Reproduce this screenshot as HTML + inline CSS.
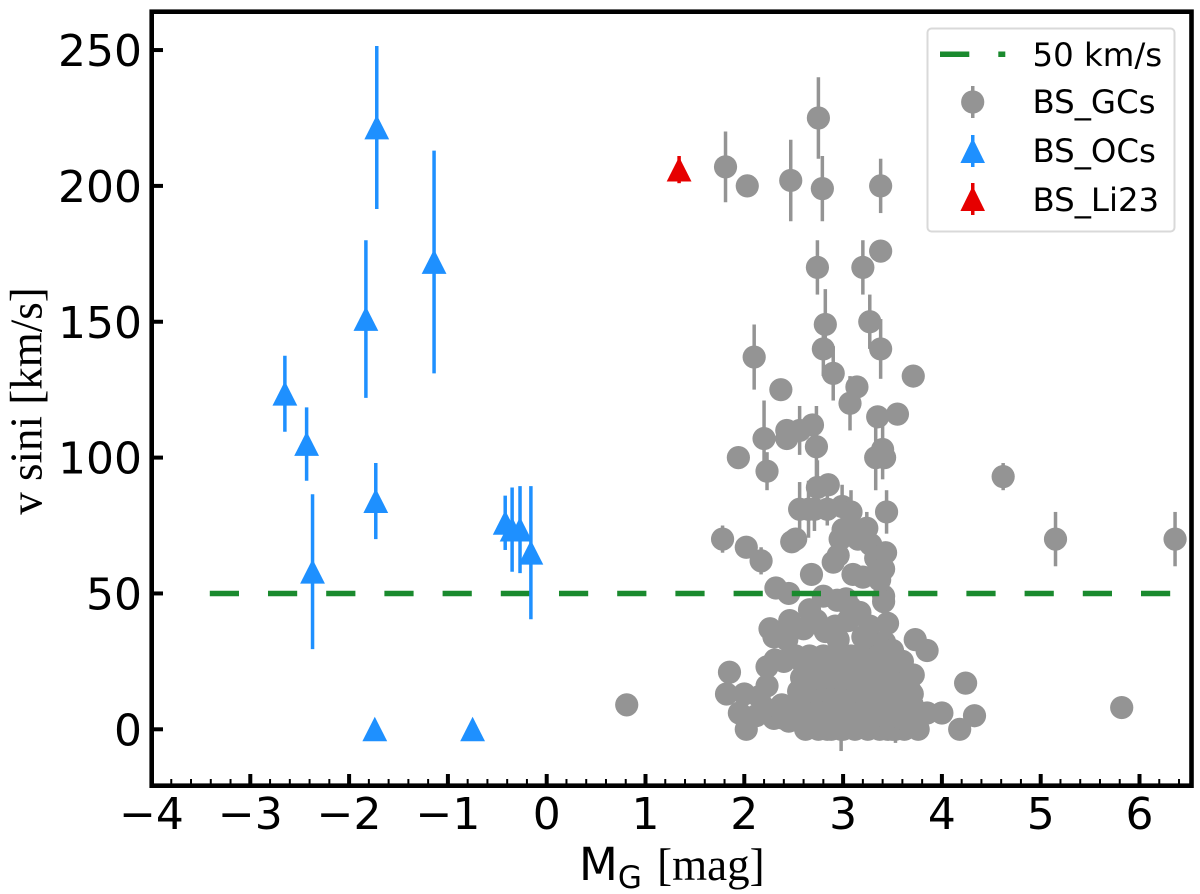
<!DOCTYPE html>
<html lang="en">
<head>
<meta charset="utf-8">
<title>v sini vs absolute magnitude</title>
<style>
html,body{margin:0;padding:0;background:#fff;}
svg{display:block;}
.tick-text{font-family:"DejaVu Sans","Liberation Sans",sans-serif;font-size:44px;fill:#000;}
.legend-text{font-family:"DejaVu Sans","Liberation Sans",sans-serif;font-size:32.4px;fill:#000;}
.serif{font-family:"Liberation Serif",serif;}
.sans{font-family:"DejaVu Sans","Liberation Sans",sans-serif;}
</style>
</head>
<body>
<svg id="chart" xmlns="http://www.w3.org/2000/svg" width="1200" height="894" viewBox="0 0 1200 894">
<rect x="0" y="0" width="1200" height="894" fill="#fff"/>
<g id="gc-layer"></g>
<g id="ref-layer"></g>
<g id="oc-layer"></g>
<g id="li-layer"></g>
<g id="axis-layer"></g>
<text class="serif" font-size="45" text-anchor="middle" transform="translate(41.5,401) rotate(-90)" fill="#000">v sini [km/s]</text>
<text x="579" y="880" font-size="45" fill="#000"><tspan class="sans" font-size="45">M</tspan><tspan class="sans" font-size="31" dy="8">G</tspan><tspan class="serif" dy="-8" dx="4"> [mag]</tspan></text>
<g>
  <rect x="927.5" y="28.5" width="247" height="203" rx="4" fill="#fff" fill-opacity="0.8" stroke="#d9d9d9" stroke-width="2"/>
  <rect x="940" y="51.5" width="29.3" height="5.5" fill="#1a8a2e"/>
  <rect x="998.3" y="51.5" width="7" height="5.5" fill="#1a8a2e"/>
  <text class="legend-text" x="1032.5" y="66">50 km/s</text>
  <rect x="971" y="86" width="3.5" height="32" fill="#949494"/>
  <circle cx="972.7" cy="102" r="11.6" fill="#949494"/>
  <text class="legend-text" x="1032.5" y="113">BS_GCs</text>
  <rect x="971" y="135" width="3.5" height="32" fill="#1e90ff"/>
  <polygon points="972.7,138 985,163 960.4,163" fill="#1e90ff"/>
  <text class="legend-text" x="1032.5" y="162">BS_OCs</text>
  <rect x="971" y="183" width="3.5" height="32" fill="#e60000"/>
  <polygon points="972.7,186 985,211 960.4,211" fill="#e60000"/>
  <text class="legend-text" x="1032.5" y="211">BS_Li23</text>
</g>
</svg>
<script>
const xTicks = [-4,-3,-2,-1,0,1,2,3,4,5,6];
const yTicks = [0,50,100,150,200,250];
const refValue = [50];
const refRange = [-3.41,6.33];

const ocMag = [-2.65,-2.43,-1.72,-1.83,-1.14,-1.73,-2.37,-0.42,-0.35,-0.27,-0.16,-1.74,-0.75];
const ocVsini = [123.5,105,221.5,151,172,84,58,76,73.5,73.5,65,0,0];
const ocErr = [14,13.5,30,29,41,14,28.5,10,15.5,16,24.5,0,0];

const liMag = [1.34];
const liVsini = [206];
const liErr = [5];

const gcMag = [
1.81,2.03,2.47,2.75,2.79,3.38,3.38,2.74,3.20,2.82,
3.27,2.80,3.38,2.10,2.90,2.37,3.71,3.14,3.07,3.35,
3.55,2.20,2.43,2.43,2.56,2.69,2.73,3.40,3.33,3.42,
1.94,2.23,2.85,2.74,3.44,2.56,2.65,2.71,2.84,2.99,
3.08,3.24,1.78,2.02,2.17,2.48,2.52,4.62,5.15,6.36,
0.81,5.82,2.84,2.98,3.37,3.45,3.53,
2.97,3.00,3.12,3.15,3.28,3.33,3.33,3.43,3.41,3.37,
2.90,2.95,2.68,3.10,3.20,3.41,3.03,2.80,2.32,2.45,
3.41,2.94,2.66,3.07,2.46,3.45,3.17,2.73,2.92,3.05,
3.27,2.26,2.30,2.43,2.60,2.82,2.95,3.20,3.32,3.42,
3.73,3.85,1.85,1.82,2.00,1.95,2.02,4.24,4.33,4.18,
4.00,3.85,2.31,2.23,2.40,2.23,2.30,2.45,2.15,2.12,
2.20,
2.62,2.75,2.88,3.00,3.12,3.25,3.50,3.62,3.76,
2.40,2.55,2.70,2.85,3.00,3.15,3.30,3.45,3.60,3.72,
2.38,2.52,2.67,2.82,2.97,3.12,3.27,3.42,3.57,3.70,
2.55,2.70,2.85,3.00,3.15,3.30,3.45,3.58,3.68,
2.58,2.72,2.87,3.02,3.17,3.32,3.47,3.61,
2.60,2.75,2.90,3.05,3.20,3.35,3.47,
2.52,2.66,2.80,2.95,3.08,3.22,3.36,
3.71,3.60,3.70,3.50
];
const gcVsini = [
207,200,202,225,199,200,176,170,170,149,
150,140,140,137,131,125,130,126,120,115,
116,107,110,107,110,112,104,103,100,100,
100,95,90,89,80,81,81,81,81,82,
80,74,70,67,62,69,70,93,70,70,
9,8,0,0,0,0,0,
70,73.5,73,70,68,63,57,65,59,55,
61.5,64,57,57,56,49,48,49,52,50,
47,47.5,44,45,40,39,43,40,38,40,
38,37,34,33,37,36,33,34,32,32,
33,29,21,13,13,6,0,17,5,0,
6,6,25.5,23,25,16,4,3,12,5,
8,
0,0,0,0,0,0,0,0,0,
4,4,4,4,4,4,4,4,4,4,
9,9,9,9,9,9,9,9,9,9,
14,14,14,14,14,14,14,14,14,
19,19,19,19,19,19,19,19,
24,24,24,24,24,24,24,
27,27,27,27,27,27,27,
20,25,13,29
];
const gcErr = [
13,0,15,15,12,10,0,10,10,13,
10,10,11,12,10,0,0,0,10,0,
0,14,1,1,9,1,15,11,12,0,
0,7,1,10,8,10,10.5,8,6,8,
8,6,5,0,5,1,1,5,10,10,
0,0,3,8,4,4,5
];

const NS = 'http://www.w3.org/2000/svg';
const xPx = v => 151.5 + (v + 4) * 98.8;
const yPx = v => 729.3 - v * 2.717;

function make(tag, parent, attrs) {
  const el = document.createElementNS(NS, tag);
  for (const k in attrs) el.setAttribute(k, attrs[k]);
  parent.appendChild(el);
  return el;
}

function errorBar(parent, mag, val, err, color, name) {
  if (!err) return;
  const el = make('line', parent, {x1: xPx(mag), x2: xPx(mag), y1: yPx(val - err), y2: yPx(val + err), stroke: color, 'stroke-width': 3.5});
  
  
}

function triangle(parent, mag, val, color, name) {
  const cx = xPx(mag), cy = yPx(val);
  const pts = cx + ',' + (cy - 12.6) + ' ' + (cx + 12.4) + ',' + (cy + 11.9) + ' ' + (cx - 12.4) + ',' + (cy + 11.9);
  const el = make('polygon', parent, {points: pts, fill: color});
  
  
}

const gcLayer = document.getElementById('gc-layer');
gcMag.forEach((m, i) => errorBar(gcLayer, m, gcVsini[i], gcErr[i], '#949494', 'gc-errorbar'));
gcMag.forEach((m, i) => {
  const c = make('circle', gcLayer, {cx: xPx(m), cy: yPx(gcVsini[i]), r: 11.6, fill: '#949494'});
  
  
});

const refLayer = document.getElementById('ref-layer');
const refLine = make('line', refLayer, {x1: xPx(refRange[0]), x2: xPx(refRange[1]), y1: yPx(refValue[0]), y2: yPx(refValue[0]), stroke: '#1a8a2e', 'stroke-width': 5.5, 'stroke-dasharray': '29.2 29'});



const ocLayer = document.getElementById('oc-layer');
ocMag.forEach((m, i) => errorBar(ocLayer, m, ocVsini[i], ocErr[i], '#1e90ff', 'oc-errorbar'));
ocMag.forEach((m, i) => triangle(ocLayer, m, ocVsini[i], '#1e90ff', 'oc-point'));

const liLayer = document.getElementById('li-layer');
liMag.forEach((m, i) => errorBar(liLayer, m, liVsini[i], liErr[i], '#e60000', 'li23-errorbar'));
liMag.forEach((m, i) => triangle(liLayer, m, liVsini[i], '#e60000', 'li23-point'));

const axis = document.getElementById('axis-layer');
const frame = make('rect', axis, {x: 151.7, y: 11.7, width: 1039.8, height: 774, fill: 'none', stroke: '#000', 'stroke-width': 4.6});



xTicks.forEach(t => {
  const tick = make('line', axis, {x1: xPx(t), x2: xPx(t), y1: 785, y2: 774, stroke: '#000', 'stroke-width': 4});
  
  
  const label = make('text', axis, {x: xPx(t), y: 829, 'text-anchor': 'middle', class: 'tick-text'});
  label.textContent = (t < 0 ? '\u2212' : '') + Math.abs(t);
  
  
  for (let k = 1; k < 5; k++) {
    const mv = t + k * 0.2;
    if (xPx(mv) > 1189) continue;
    const minor = make('line', axis, {x1: xPx(mv), x2: xPx(mv), y1: 785, y2: 779, stroke: '#000', 'stroke-width': 2});
    
    
  }
});

yTicks.forEach(t => {
  const tick = make('line', axis, {x1: 152, x2: 163, y1: yPx(t), y2: yPx(t), stroke: '#000', 'stroke-width': 4});
  
  
  const label = make('text', axis, {x: 142, y: yPx(t) + 16, 'text-anchor': 'end', class: 'tick-text'});
  label.textContent = String(t);
  
  
});
</script>
</body>
</html>
